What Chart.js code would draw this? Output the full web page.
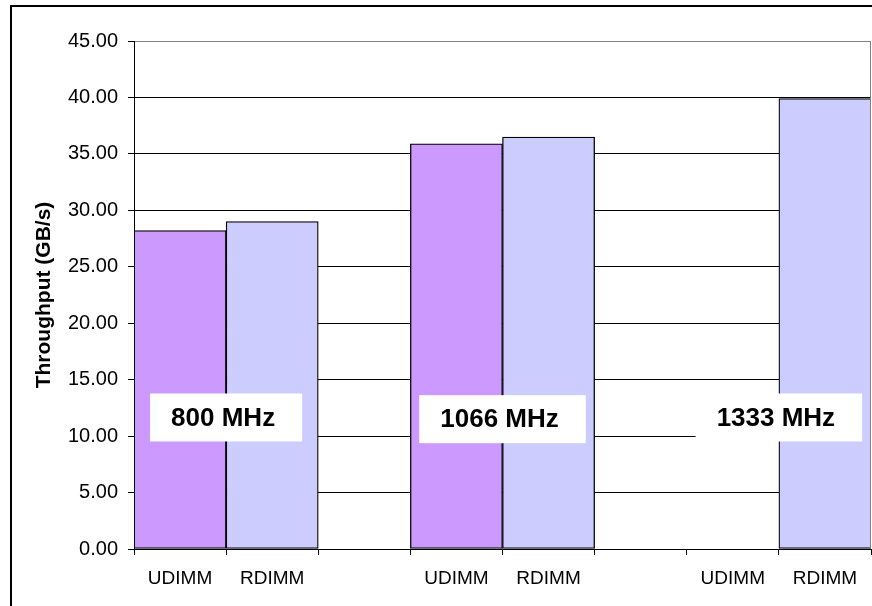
<!DOCTYPE html>
<html>
<head>
<meta charset="utf-8">
<script src="https://cdn.jsdelivr.net/npm/chart.js@4/dist/chart.umd.min.js"></script>
<style>
    html, body { margin: 0; padding: 0; background: #fff; }
    canvas { display: block; }
</style>
</head>
<body>
<canvas id="memChart" width="872" height="606"></canvas>
<script>
// data
const categories = ['UDIMM', 'RDIMM', '', 'UDIMM', 'RDIMM', '', 'UDIMM', 'RDIMM'];
const udimmValues = [28.2, null, null, 35.9, null, null, null, null];
const rdimmValues = [null, 29.0, null, null, 36.5, null, null, 39.9];
const groupLabels = ['800 MHz', '1066 MHz', '1333 MHz'];
const groupStart = [0, 3, 6];     // index of first category of each group
const groupLabelY = [11.65, 11.5, 11.65];
const yTicks = [0, 5, 10, 15, 20, 25, 30, 35, 40, 45];

// outer frame + white background
const framePlugin = {
    id: 'frame',
    beforeDraw(chart) {
        const c = chart.ctx;
        c.save();
        c.fillStyle = '#fff';
        c.fillRect(0, 0, chart.width, chart.height);
        c.restore();
    },
    afterDraw(chart) {
        const c = chart.ctx;
        const a = chart.chartArea;
        c.save();
        c.strokeStyle = '#000';
        c.lineWidth = 2;
        c.strokeRect(11, 6, chart.width + 20, chart.height + 20);
        // right edge of plot area
        c.strokeStyle = '#808080';
        c.lineWidth = 1;
        c.beginPath();
        c.moveTo(a.right - 0.5, a.top);
        c.lineTo(a.right - 0.5, a.bottom);
        c.stroke();
        c.restore();
    }
};

// white boxes with the frequency labels
const groupLabelPlugin = {
    id: 'groupLabels',
    afterDatasetsDraw(chart) {
        const c = chart.ctx;
        const x = chart.scales.x;
        const y = chart.scales.y;
        c.save();
        c.font = 'bold 26px "Liberation Sans", Arial, sans-serif';
        c.textAlign = 'center';
        c.textBaseline = 'middle';
        groupLabels.forEach((txt, i) => {
            const cx = (x.getPixelForValue(groupStart[i]) + x.getPixelForValue(groupStart[i] + 1)) / 2;
            const cy = y.getPixelForValue(groupLabelY[i]);
            const w = c.measureText(txt).width + 48;
            const h = 48;
            c.fillStyle = '#fff';
            c.fillRect(cx - w / 2, cy - h / 2, w, h);
            c.fillStyle = '#000';
            c.fillText(txt, cx - 3, cy + 1);
        });
        c.restore();
    }
};

const ctx = document.getElementById('memChart').getContext('2d');
new Chart(ctx, {
    type: 'bar',
    data: {
        labels: categories,
        datasets: [{
            label: 'UDIMM',
            data: udimmValues,
            backgroundColor: '#CC99FF',
            borderColor: '#000',
            borderWidth: 1.3,
            borderSkipped: false
        }, {
            label: 'RDIMM',
            data: rdimmValues,
            backgroundColor: '#CCCCFF',
            borderColor: '#000',
            borderWidth: 1.3,
            borderSkipped: false
        }]
    },
    options: {
        responsive: false,
        animation: false,
        devicePixelRatio: 1,
        layout: { padding: { left: 0, right: 1, top: 41, bottom: 0 } },
        datasets: {
            bar: { barPercentage: 1, categoryPercentage: 1, grouped: false }
        },
        plugins: {
            legend: { display: false },
            tooltip: { enabled: false }
        },
        scales: {
            x: {
                grid: {
                    drawOnChartArea: false,
                    drawTicks: true,
                    tickLength: 6,
                    tickColor: '#000',
                    offset: true
                },
                border: { color: '#000', width: 1 },
                ticks: {
                    color: '#000',
                    padding: 12,
                    maxRotation: 0,
                    autoSkip: false,
                    font: { family: '"Liberation Sans", Arial, sans-serif', size: 19 }
                },
                afterFit(scale) { scale.height = 57; }
            },
            y: {
                min: 0,
                max: 45,
                afterBuildTicks(scale) {
                    scale.ticks = yTicks.map(v => ({ value: v }));
                },
                grid: {
                    color: (c) => c.tick && c.tick.value === 45 ? '#808080' : '#000',
                    tickColor: '#000',
                    tickLength: 6,
                    lineWidth: 1
                },
                border: { color: '#000', width: 1 },
                ticks: {
                    color: '#000',
                    padding: 10,
                    font: { family: '"Liberation Sans", Arial, sans-serif', size: 20 },
                    callback: (v) => Number(v).toFixed(2)
                },
                title: {
                    display: true,
                    text: 'Throughput (GB/s)',
                    color: '#000',
                    padding: { top: 32, bottom: 0 },
                    font: { family: '"Liberation Sans", Arial, sans-serif', size: 21, weight: 'bold' }
                },
                afterFit(scale) { scale.width = 134; }
            }
        }
    },
    plugins: [framePlugin, groupLabelPlugin]
});
</script>
</body>
</html>
